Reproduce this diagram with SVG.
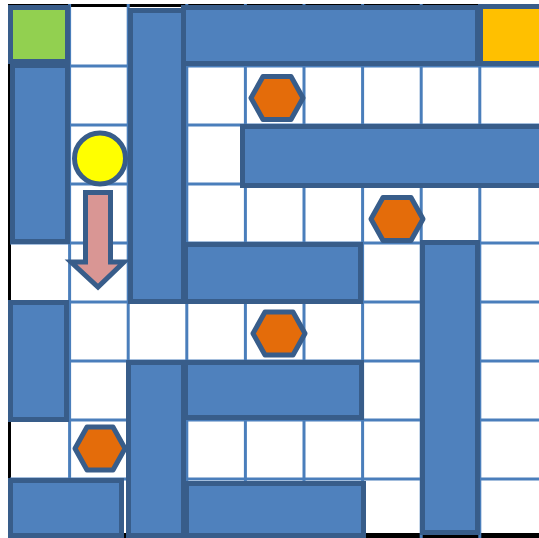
<svg xmlns="http://www.w3.org/2000/svg" width="539" height="538" viewBox="0 0 539 538">
<style>
.grid line{stroke:#4A7EBB;stroke-width:3}
.wall{fill:#4F81BD;stroke:#385D8A;stroke-width:5}
.hex{fill:#E46C0A;stroke:#385D8A;stroke-width:5;stroke-linejoin:round}
</style>
<rect width="539" height="538" fill="#ffffff"/>
<g id="border" stroke="#000000" fill="none">
<line x1="9.5" y1="4" x2="9.5" y2="538" stroke-width="3"/>
<line x1="8" y1="5.5" x2="539" y2="5.5" stroke-width="3"/>
<line x1="8" y1="535.5" x2="539" y2="535.5" stroke-width="5"/>
</g>
<g id="grid" class="grid">
<line x1="69.6" y1="4" x2="69.6" y2="538"/>
<line x1="128.2" y1="4" x2="128.2" y2="538"/>
<line x1="186.8" y1="4" x2="186.8" y2="538"/>
<line x1="245.4" y1="4" x2="245.4" y2="538"/>
<line x1="304" y1="4" x2="304" y2="538"/>
<line x1="362.6" y1="4" x2="362.6" y2="538"/>
<line x1="421.2" y1="4" x2="421.2" y2="538"/>
<line x1="479.8" y1="4" x2="479.8" y2="538"/>
<line x1="10" y1="66" x2="539" y2="66"/>
<line x1="10" y1="125" x2="539" y2="125"/>
<line x1="10" y1="184" x2="539" y2="184"/>
<line x1="10" y1="243" x2="539" y2="243"/>
<line x1="10" y1="302" x2="539" y2="302"/>
<line x1="10" y1="361" x2="539" y2="361"/>
<line x1="10" y1="420" x2="539" y2="420"/>
<line x1="10" y1="479" x2="539" y2="479"/>
</g>
<g id="walls">
<rect id="wallB" class="wall" x="12.5" y="65.5" width="55" height="176"/>
<rect id="start" class="wall" x="10.5" y="7.5" width="57" height="54" style="fill:#92D050"/>
<rect id="wallC" class="wall" x="130.5" y="10.5" width="53" height="291"/>
<rect id="wallD" class="wall" x="183.5" y="7.5" width="294" height="56"/>
<rect id="goal" class="wall" x="480.5" y="6.5" width="62" height="57" style="fill:#FFC000"/>
<rect id="wallF" class="wall" x="242.5" y="126.5" width="300" height="59"/>
<rect id="wallG" class="wall" x="185.5" y="244.5" width="175" height="57"/>
<rect id="wallH" class="wall" x="422.5" y="242.5" width="55" height="290"/>
<rect id="wallI" class="wall" x="10.5" y="302.5" width="56" height="117"/>
<rect id="wallJ" class="wall" x="128.5" y="362.5" width="55" height="173"/>
<rect id="wallK" class="wall" x="185.5" y="362.5" width="176" height="55"/>
<rect id="wallL" class="wall" x="10.5" y="480.5" width="111" height="55"/>
<rect id="wallM" class="wall" x="186.5" y="483.5" width="177" height="52"/>
</g>
<g id="hex1"><polygon class="hex" points="251,98 263,76.5 291,76.5 303,98 291,119.5 263,119.5"/></g>
<g id="hex2"><polygon class="hex" points="371,219 383,197.5 411,197.5 423,219 411,240.5 383,240.5"/></g>
<g id="hex3"><polygon class="hex" points="253,333.5 265,312 293,312 305,333.5 293,355 265,355"/></g>
<g id="hex4"><polygon class="hex" points="75,448.5 87,427 113,427 125,448.5 113,470 87,470"/></g>
<g id="player"><circle cx="100" cy="158.5" r="25.5" fill="#FFFF00" stroke="#385D8A" stroke-width="5"/></g>
<g id="arrow"><polygon points="85.5,192.5 110.5,192.5 110.5,262 124,262 98,287 71,262 85.5,262" fill="#D99694" stroke="#385D8A" stroke-width="5" stroke-linejoin="miter"/></g>
</svg>
